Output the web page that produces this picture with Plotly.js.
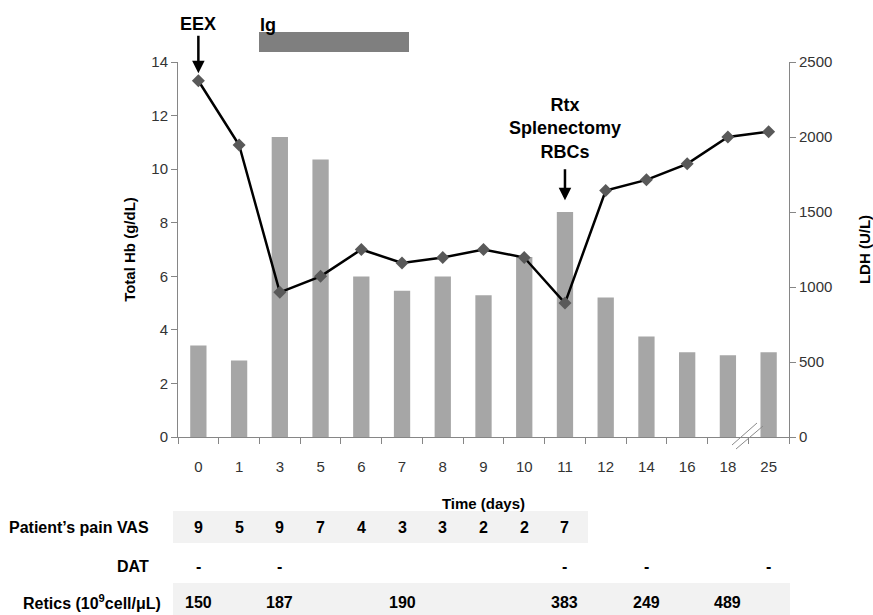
<!DOCTYPE html>
<html>
<head>
<meta charset="utf-8">
<script src="https://cdn.plot.ly/plotly-3.0.1.min.js"></script>
<style>html,body{margin:0;padding:0;background:#fff;}#chart{width:873px;height:615px;}</style>
</head>
<body>
<div id="chart"></div>
<script>
// ---- data ----
var days = ['0','1','3','5','6','7','8','9','10','11','12','14','16','18','25'];
var hb = [13.3, 10.9, 5.4, 6.0, 7.0, 6.5, 6.7, 7.0, 6.7, 5.0, 9.2, 9.6, 10.2, 11.2, 11.4];
var ldh = [610, 510, 2000, 1850, 1070, 975, 1070, 945, 1200, 1500, 930, 670, 565, 545, 565];
var vas = [9, 5, 9, 7, 4, 3, 3, 2, 2, 7, null, null, null, null, null];
var dat = ['-', null, '-', null, null, null, null, null, null, '-', null, '-', null, null, '-'];
var retics = [150, null, 187, null, null, 190, null, null, null, 383, null, 249, null, 489, null];
var rowLabels = ['Patient\u2019s pain VAS', 'DAT', 'Retics (10<sup>9</sup>cell/\u03bcL)'];
var eventLabels = ['EEX', 'Ig', 'Rtx<br>Splenectomy<br>RBCs'];

var FONT = 'Liberation Sans, Arial, sans-serif';
var axisColor = '#868686';

var traces = [
  {type: 'bar', x: days, y: ldh, yaxis: 'y', marker: {color: '#a6a6a6'}, hoverinfo: 'x+y', name: 'LDH'},
  {type: 'scatter', mode: 'lines+markers', x: days, y: hb, yaxis: 'y2',
   line: {color: '#000000', width: 2.5},
   marker: {symbol: 'diamond', size: 10, color: '#595959'}, name: 'Total Hb'}
];

// helpers: pixel -> paper
function py(Y){ return (437 - Y) / 375; }
function px(X){ return (X - 178) / 611; }

var annotations = [];
var rowYs = [py(527), py(566), py(602)];
var rowRight = [px(151), px(151), px(163)];
for (var r = 0; r < rowLabels.length; r++) {
  annotations.push({xref: 'paper', yref: 'paper', x: rowRight[r], y: rowYs[r], xanchor: 'right', yanchor: 'middle',
    text: '<b>' + rowLabels[r] + '</b>', showarrow: false, font: {family: FONT, size: 16, color: '#000'}});
}
var rows = [vas, dat, retics];
for (var r = 0; r < rows.length; r++) {
  for (var i = 0; i < days.length; i++) {
    var v = rows[r][i];
    if (v === null || v === undefined) continue;
    annotations.push({xref: 'x', yref: 'paper', x: i, y: rowYs[r], xanchor: 'center', yanchor: 'middle',
      text: '<b>' + v + '</b>', showarrow: false, font: {family: FONT, size: 16, color: '#000'}});
  }
}
// event labels with arrows
annotations.push({xref: 'x', yref: 'y2', x: 0, y: 13.58, ax: 0, ay: -49, text: '<b>' + eventLabels[0] + '</b>',
  showarrow: true, arrowhead: 2, arrowsize: 1, arrowwidth: 2.5, arrowcolor: '#000',
  font: {family: FONT, size: 18, color: '#000'}});
annotations.push({xref: 'paper', yref: 'paper', x: px(268), y: py(25), text: '<b>' + eventLabels[1] + '</b>', showarrow: false,
  xanchor: 'center', yanchor: 'middle', font: {family: FONT, size: 18, color: '#000'}});
annotations.push({xref: 'x', yref: 'y2', x: 9, y: 8.84, ax: 0, ay: -72, text: '<b>' + eventLabels[2] + '</b>',
  showarrow: true, arrowhead: 2, arrowsize: 1, arrowwidth: 2.5, arrowcolor: '#000', startstandoff: 6,
  font: {family: FONT, size: 18, color: '#000'}});

var shapes = [
  // Ig bar
  {type: 'rect', xref: 'paper', yref: 'paper', x0: px(259), x1: px(409), y0: py(52), y1: py(32),
   fillcolor: '#7f7f7f', line: {width: 0}},
  // table bands
  {type: 'rect', xref: 'paper', yref: 'paper', x0: px(173), x1: px(588), y0: py(543), y1: py(511),
   fillcolor: '#f2f2f2', line: {width: 0}, layer: 'below'},
  {type: 'rect', xref: 'paper', yref: 'paper', x0: px(173), x1: px(790), y0: py(615), y1: py(583),
   fillcolor: '#f2f2f2', line: {width: 0}, layer: 'below'},
  // axis break marks
  {type: 'line', xref: 'paper', yref: 'paper', x0: px(732), y0: py(445), x1: px(757), y1: py(423),
   line: {color: '#8a8a8a', width: 1}},
  {type: 'line', xref: 'paper', yref: 'paper', x0: px(736), y0: py(449), x1: px(763), y1: py(426),
   line: {color: '#8a8a8a', width: 1}}
];

var layout = {
  width: 873, height: 615,
  margin: {l: 178, r: 84, t: 62, b: 178, pad: 0},
  paper_bgcolor: '#ffffff', plot_bgcolor: 'rgba(0,0,0,0)',
  showlegend: false,
  bargap: 0.6,
  font: {family: FONT, size: 15, color: '#333'},
  xaxis: {type: 'category', range: [-0.5, 14.5], showgrid: false, zeroline: false, showline: true, linecolor: axisColor, linewidth: 1,
    ticks: 'outside', tickson: 'boundaries', ticklen: 6, tickcolor: axisColor, ticklabelstandoff: 16,
    tickfont: {family: FONT, size: 15, color: '#333'},
    title: {text: '<b>Time (days)</b>', font: {family: FONT, size: 15, color: '#000'}, standoff: 24}},
  yaxis: {side: 'right', range: [0, 2500], dtick: 500, showgrid: false, zeroline: false, showline: true,
    linecolor: axisColor, ticks: 'outside', ticklen: 6, tickcolor: axisColor,
    tickfont: {family: FONT, size: 15, color: '#333'},
    title: {text: '<b>LDH (U/L)</b>', font: {family: FONT, size: 15, color: '#000'}, standoff: 28}},
  yaxis2: {overlaying: 'y', side: 'left', range: [0, 14], dtick: 2, showgrid: false, zeroline: false, showline: true,
    linecolor: axisColor, ticks: 'outside', ticklen: 6, tickcolor: axisColor,
    tickfont: {family: FONT, size: 15, color: '#333'},
    title: {text: '<b>Total Hb (g/dL)</b>', font: {family: FONT, size: 15, color: '#000'}, standoff: 12}},
  annotations: annotations,
  shapes: shapes
};

Plotly.newPlot('chart', traces, layout, {displayModeBar: false, staticPlot: true});
</script>
</body>
</html>
